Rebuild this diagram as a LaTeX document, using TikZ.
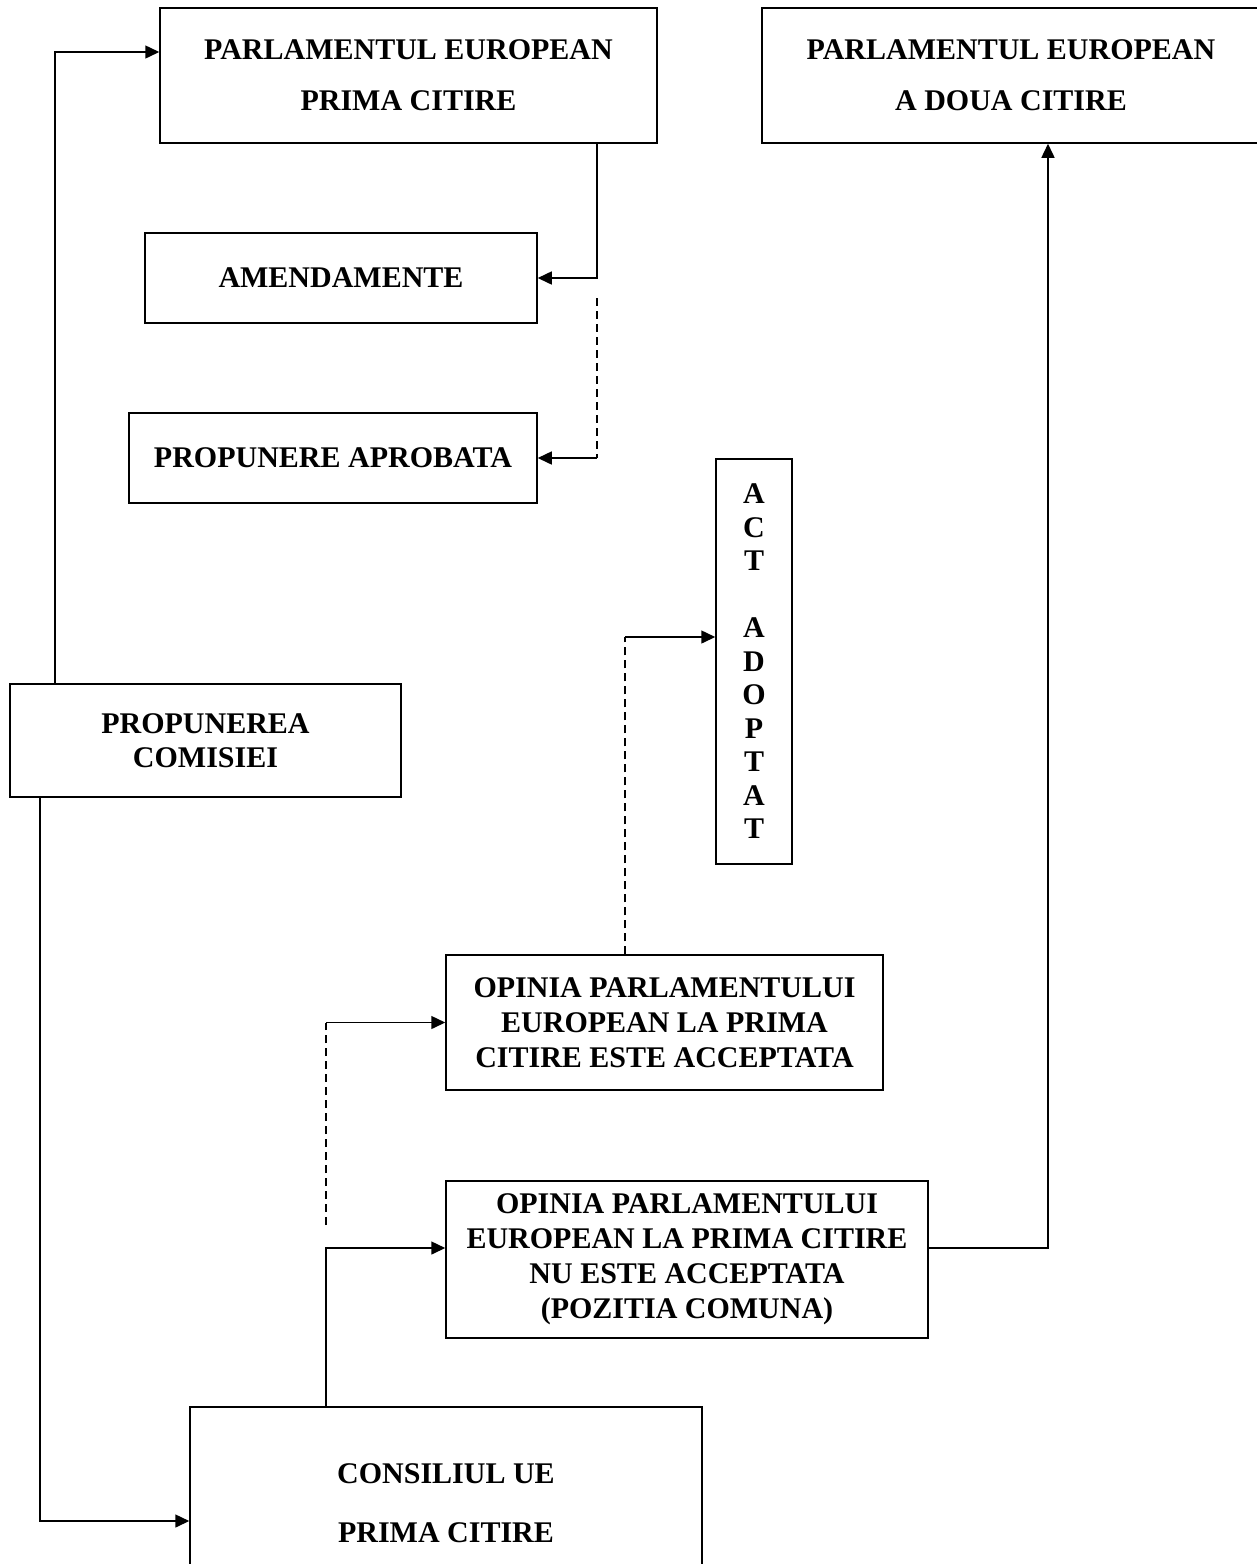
\documentclass[tikz,border=0pt]{standalone}
\usepackage{fontspec}
\setmainfont{Liberation Serif}
\usetikzlibrary{arrows.meta}

\tikzset{
  box/.style={draw, line width=0.75pt, inner sep=0pt, align=center,
    font=\fontsize{15}{17.5}\selectfont\bfseries},
  wide/.style={font=\fontsize{15}{25.5}\selectfont\bfseries},
  dashline/.style={dash pattern=on 4pt off 2.5pt},
}

\begin{document}
\begin{tikzpicture}[x=0.5pt, y=-0.5pt, line width=0.75pt,
    >={Triangle[length=7pt,width=6.5pt]}]
            \clip (0,0) rectangle (1257,1564);
            \fill[white] (0,0) rectangle (1257,1564);
            % the boxes, at the places they have in the scheme
            \node[box, wide, minimum width=248.5pt, minimum height=67.5pt] (pe1) at (408.5,75.5)
                {PARLAMENTUL EUROPEAN\\PRIMA CITIRE};
            \node[box, wide, minimum width=249pt, minimum height=67.5pt] (pe2) at (1011,75.5)
                {PARLAMENTUL EUROPEAN\\A DOUA CITIRE};
            \node[box, minimum width=196pt, minimum height=45pt] (amend) at (341,278) {AMENDAMENTE};
            \node[box, minimum width=204pt, minimum height=45pt] (propapr) at (333,458) {PROPUNERE APROBATA};
            \node[box, font=\fontsize{15}{16.75}\selectfont\bfseries,
                  minimum width=38pt, minimum height=202.5pt] (act) at (754,661.5)
                {A\\C\\T\\\mbox{}\\A\\D\\O\\P\\T\\A\\T};
            \node[box, font=\fontsize{15}{17}\selectfont\bfseries,
                  minimum width=195.5pt, minimum height=56.5pt] (propcom) at (205.5,740.5)
                {PROPUNEREA\\COMISIEI};
            \node[box, minimum width=218.5pt, minimum height=67.5pt] (op1) at (664.5,1022.5)
                {OPINIA PARLAMENTULUI\\EUROPEAN LA PRIMA\\CITIRE ESTE ACCEPTATA};
            \node[box, minimum width=241pt, minimum height=78.5pt] (op2) at (687,1259.5)
                {OPINIA PARLAMENTULUI\\EUROPEAN LA PRIMA CITIRE\\NU ESTE ACCEPTATA\\(POZITIA COMUNA)};
            \node[box, font=\fontsize{15}{29.5}\selectfont\bfseries,
                  minimum width=256pt, minimum height=96.5pt] (cons) at (446,1503.5)
                {CONSILIUL UE\\PRIMA CITIRE};
            % bend points of the connectors
            \coordinate (pcUp)   at (55,52);
            \coordinate (pcDn)   at (40,1521);
            \coordinate (pe1Dn)  at (597,278);
            \coordinate (apTop)  at (597,298);
            \coordinate (actIn)  at (625,637);
            \coordinate (op1In)  at (326,1225);
            \coordinate (consUp) at (326,1248);
            \coordinate (op2Out) at (1048,1248);
            % solid connectors
            \draw [->] (pcUp |- propcom.north) |- (pe1.west |- pcUp);
            \draw [->] (pcDn |- propcom.south) |- (cons.west |- pcDn);
            \draw [->] (pe1Dn |- pe1.south) |- (amend.east);
            \draw [->] (consUp |- cons.north) |- (op2.west |- consUp);
            \draw [->] (op2.east |- op2Out) -| (pe2.south -| op2Out);
            % dashed ones, ending in a short solid arrow
            \draw [dashline] (apTop) -- (apTop |- propapr.east);
            \draw [->] (apTop |- propapr.east) -- (propapr.east);
            \draw [dashline] (actIn |- op1.north) -- (actIn);
            \draw [->] (actIn) -- (act.west |- actIn);
            \draw [dashline] (op1In) -- (op1In |- op1.west);
            \draw [->] (op1In |- op1.west) -- (op1.west);
\end{tikzpicture}
\end{document}
